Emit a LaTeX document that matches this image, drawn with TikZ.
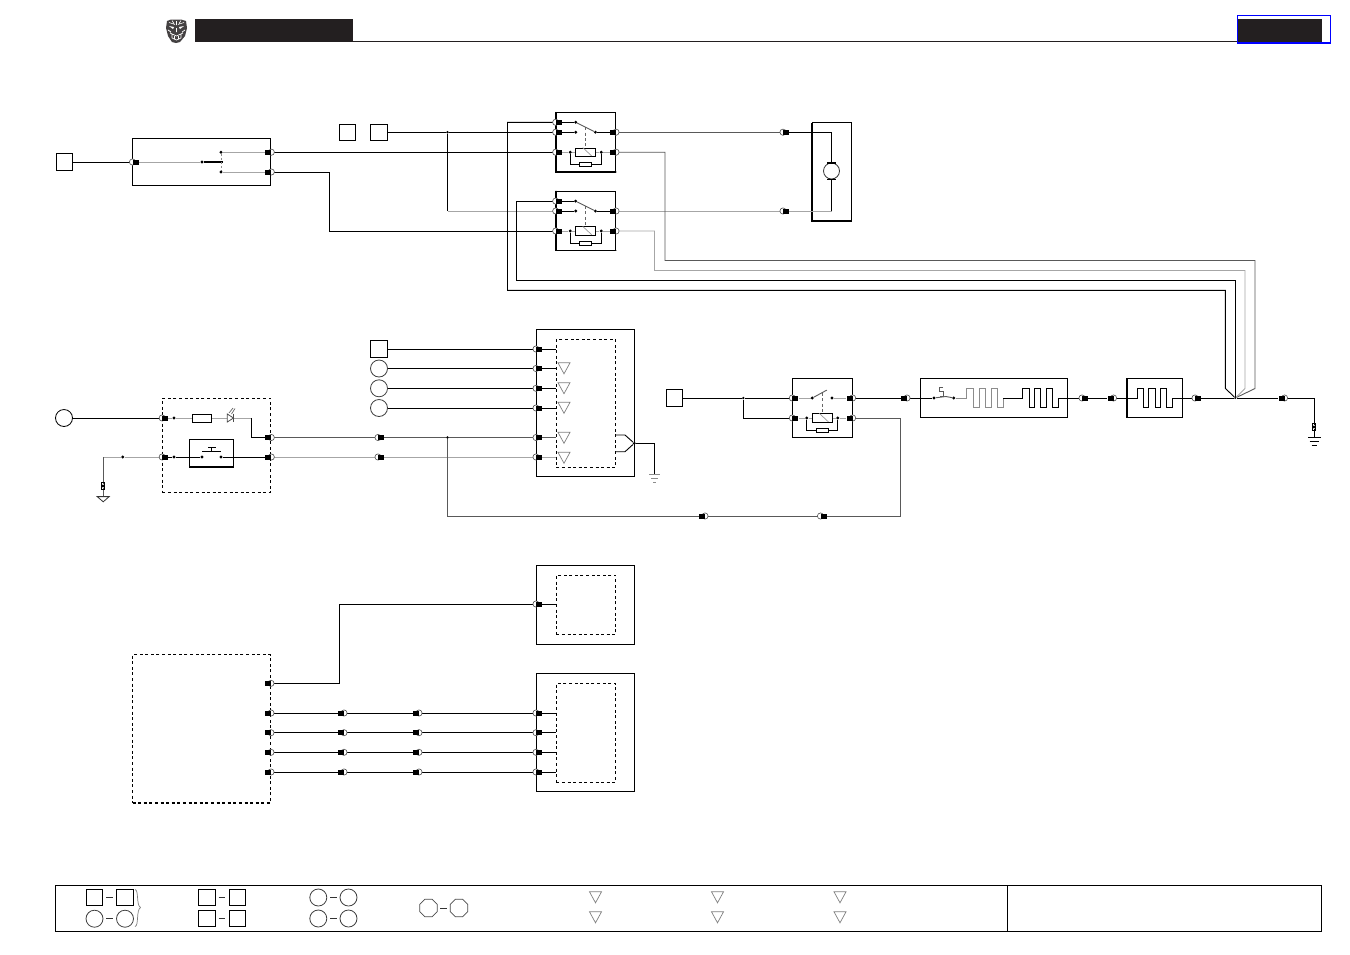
\documentclass[tikz,border=0pt]{standalone}
\usetikzlibrary{shapes.geometric}
\pgfdeclarelayer{bg}
\pgfsetlayers{bg,main}
\definecolor{ink}{HTML}{231F20}
\tikzset{
  wire/.style={draw=black,line width=0.9pt},
  mwire/.style={draw=black!65,line width=0.9pt},
  gwire/.style={draw=black!35,line width=0.9pt},
  hgwire/.style={draw=black!45,line width=0.9pt},
  thickline/.style={draw=black,line width=1.8pt},
  boxn/.style={draw=black,line width=0.9pt,inner sep=0pt,outer sep=0pt},
  dashbox/.style={draw=black,line width=0.9pt,inner sep=0pt,outer sep=0pt,dash pattern=on 3pt off 2.6pt},
  bigdash/.style={draw=black,line width=1.3pt,inner sep=0pt,outer sep=0pt,dash pattern=on 3pt off 2.6pt},
  term/.style={draw=black,line width=0.9pt,inner sep=0pt,minimum size=16.5pt},
  round/.style={circle,draw=black!75,line width=0.8pt,inner sep=0pt,minimum size=17pt},
  octa/.style={regular polygon,regular polygon sides=8,draw=black!70,line width=0.8pt,inner sep=0pt,minimum size=19pt},
  dotn/.style={circle,fill=black,inner sep=0pt,minimum size=3.2pt},
  pins/.style={rectangle,fill=black,inner sep=0pt,minimum width=6pt,minimum height=5pt},
  pinc/.style={circle,draw=black!70,fill=white,line width=0.6pt,inner sep=0pt,minimum size=6.2pt},
  resn/.style={draw=black,fill=white,line width=0.9pt,inner sep=0pt},
  triline/.style={draw=black!50,line width=0.7pt},
  gndline/.style={draw=black,line width=0.9pt},
}
\newcommand\pinL[3]{\node[pinc] at (#2-3,#3) {};\node[pins] (#1) at (#2,#3) {};}
\newcommand\pinR[3]{\node[pinc] at (#2+3,#3) {};\node[pins] (#1) at (#2,#3) {};}
\newcommand\bx[6][boxn]{%
  \pgfmathsetmacro\bw{#5-#3}\pgfmathsetmacro\bh{#6-#4}%
  \begin{pgfonlayer}{bg}
  \node[#1,minimum width=\bw pt,minimum height=\bh pt] (#2) at ({(#3+#5)/2},{(#4+#6)/2}) {};
  \end{pgfonlayer}}
\newcommand\tri[2]{\draw[triline] (#1-6,#2) -- (#1+6,#2) -- (#1,#2+11) -- cycle;}
% relay body: origin at top left of the box
\newcommand\relaybody[3]{%
  \pinL{#1L2}{3}{19.5}\pinR{#1R2}{57.3}{19.5}
  \pinL{#1L3}{3}{39.5}\pinR{#1R3}{57.3}{39.5}
  \node[dotn] (#1c1) at (20,19.5) {};
  \node[dotn] (#1c2) at (39.7,19.5) {};
  \node[dotn] (#1c3) at (14.5,39.5) {};
  \node[dotn] (#1c4) at (45.5,39.5) {};
  \node[resn,minimum width=20pt,minimum height=8.4pt] (#1coil) at (30,39.5) {};
  \node[resn,minimum width=12pt,minimum height=4.4pt] (#1res) at (30,52) {};
  \draw[draw=black!40,line width=0.7pt] (#1coil.north)++(-3,0) -- ++(9,8.4);
  \begin{pgfonlayer}{bg}
  \node[boxn,minimum width=60pt,minimum height=59pt] (#1box) at (30,29.5) {};
  \draw[#2,line cap=round] (#1box.north west) -- (#1box.south west) -- (#1box.south east);
  \draw[#3] (#1L2) -- (#1c1);
  \draw[#3] (#1c2) -- (#1R2);
  \draw[gwire] (#1L3) -- (#1c3) -- (#1coil);
  \draw[gwire] (#1coil) -- (#1c4) -- (#1R3);
  \draw[wire] (#1c3) |- (#1res);
  \draw[wire] (#1res) -| (#1c4);
  \draw[black!60,line width=0.7pt,dash pattern=on 3pt off 2.4pt] (29.7,14.5) -- (#1coil.north -| 29.7,0);
  \end{pgfonlayer}}
\begin{document}
\begin{tikzpicture}[x=1pt,y=-1pt]
\useasboundingbox (0,0) rectangle (1350,954);
\begin{pgfonlayer}{bg}
\fill[white] (0,0) rectangle (1350,954);
\end{pgfonlayer}

%% header
\fill[ink] (195,19) rectangle (353,42);
\draw[ink,line width=0.9pt] (353,41.6) -- (1238,41.6);
\fill[ink] (1238,18.5) rectangle (1322,42);
\draw[blue,line width=1.2pt] (1237.5,15.5) rectangle (1330.5,43);
% tiger emblem
\fill[ink!85] (167,21) -- (171,19.5) -- (181,19.5) -- (186,21) -- (187,28) -- (185,36) -- (180,42) -- (176,43) -- (172,42) -- (168,36) -- (166,28) -- cycle;
\fill[white] (169,26) -- (174,27) -- (173,29) -- cycle;
\fill[white] (184,26) -- (179,27) -- (180,29) -- cycle;
\draw[white,line width=0.6pt] (169,22.5) -- (175,24.5) (184,22.5) -- (178,24.5) (172,20.5) -- (174,23.5) (181,20.5) -- (179,23.5) (176.5,21) -- (176.5,25) (176.5,28) -- (176.5,32);
\draw[white,line width=0.7pt] (170,33) -- (176.5,36) -- (183,33) (172,38) -- (176.5,40) -- (181,38) (168,30) -- (171,32) (185,30) -- (182,32) (172,34) -- (172,38) (181,34) -- (181,38) (174.5,36) -- (174.5,39.5) (178.5,36) -- (178.5,39.5);

%% top switch
\node[term] (tA) at (64.5,162) {};
\bx{swbox}{132.3}{138.3}{270.7}{185.5}
\pinL{swL}{135.5}{162}
\pinR{swRa}{268.3}{152.2}
\pinR{swRb}{268.3}{172}
\node[dotn] (swP) at (202,162) {};
\node[dotn] (swCa) at (221,152.2) {};
\node[dotn] (swCb) at (221,172) {};
\coordinate (swArm) at (222.5,162);

%% top terminals
\node[term] (tB) at (347.5,132.2) {};
\node[term] (tC) at (379,132.2) {};
\node[dotn,minimum size=2.6pt] (jA) at (447.5,132.2) {};

%% relays
\begin{scope}[shift={(555.7,112.7)}]
  \relaybody{ra}{thickline}{wire}
  \pinL{raL1}{3}{9.6}
  \node[dotn] (rac0) at (20,9.6) {};
  \begin{pgfonlayer}{bg}
  \draw[wire] (raL1) -- (rac0);
  \draw[mwire] (rac0) -- (rac2);
  \end{pgfonlayer}
\end{scope}
\begin{scope}[shift={(555.7,191.5)}]
  \relaybody{rb}{thickline}{wire}
  \pinL{rbL1}{3}{9.6}
  \node[dotn] (rbc0) at (20,9.6) {};
  \begin{pgfonlayer}{bg}
  \draw[wire] (rbL1) -- (rbc0);
  \draw[mwire] (rbc0) -- (rbc2);
  \end{pgfonlayer}
\end{scope}
\begin{scope}[shift={(792.3,378.5)}]
  \relaybody{rc}{wire}{gwire}
  \coordinate (rcArm) at (34.5,11.6);
  \begin{pgfonlayer}{bg}
  \draw[mwire] (rcc1) -- (rcArm);
  \end{pgfonlayer}
\end{scope}

%% motor
\bx{mbox}{812}{122.5}{851}{221}
\begin{pgfonlayer}{bg}
\draw[thickline] (mbox.north west) -- (mbox.south west) -- (mbox.south east);
\end{pgfonlayer}
\node[circle,draw=black!80,fill=white,line width=0.8pt,inner sep=0pt,minimum size=16pt] (mot) at (831.5,171) {};
\fill[black] (827,161.7) rectangle (836,163.6);
\fill[black] (827,178.6) rectangle (836,180.4);
\pinL{mpa}{786}{132.2}
\pinL{mpb}{786}{211}
\coordinate (mta) at (831.5,132.2);
\coordinate (mtb) at (831.5,211);

%% middle left unit
\node[round,draw=black] (tD) at (64,418) {};
\bx[dashbox]{ubox}{162.3}{398.3}{270.7}{492.3}
\pinL{uLa}{165.2}{418}
\pinL{uLb}{165.2}{457}
\pinR{uRa}{268.3}{437.5}
\pinR{uRb}{268.3}{457}
\node[dotn] (ud1) at (174,418) {};
\node[dotn] (ud2) at (174,457) {};
\node[dotn] (ud3) at (122.7,457) {};
\node[resn,minimum width=19.4pt,minimum height=8pt] (ures) at (202,418) {};
\coordinate (uLedA) at (227.3,418);
\coordinate (uLedK) at (233.7,418);
\draw[draw=black!70,line width=0.8pt] (227.3,414) -- (233.5,418) -- (227.3,422) -- cycle;
\draw[draw=black!70,line width=0.8pt] (233.8,413.7) -- (233.8,422.3);
\draw[draw=black!60,line width=0.7pt] (229,413) -- (233,408) (231.5,414) -- (235,408.5);
\bx{ubtn}{189.3}{439.3}{233.3}{467.3}
\begin{pgfonlayer}{bg}
\draw[thickline] (ubtn.south west) -- (ubtn.south east);
\end{pgfonlayer}
\node[dotn] (ub1) at (202,457) {};
\node[dotn] (ub2) at (221,457) {};
\draw[wire] (202,451.3) -- (221,451.3) (211.5,451.3) -- (211.5,447.4) (208,447.4) -- (215.5,447.4);
% ground of the unit
\node[dotn] (ug) at (103,486) {};
\draw[draw=black!80,line width=0.8pt] (97.2,496.6) -- (109.2,496.6) -- (103.2,501.8) -- cycle;
\draw[black,line width=0.6pt] (101.6,482.5) rectangle (104.6,489);

%% middle terminals
\node[term] (tE) at (379,349) {};
\node[round] (tF) at (379,368.5) {};
\node[round] (tG) at (379,388.3) {};
\node[round] (tH) at (379,408) {};
\pinL{ha}{381}{437.5}
\pinL{hb}{381}{457}
\node[dotn,minimum size=2.6pt] (jB) at (447.5,437.5) {};

%% IC block
\bx{ica}{536.3}{329.4}{634.3}{476}
\bx[dashbox]{icb}{556.3}{339.3}{615.7}{467.3}
\pinL{ic1}{539}{349}
\pinL{ic2}{539}{368.5}
\pinL{ic3}{539}{388.3}
\pinL{ic4}{539}{408}
\pinL{ic5}{539}{437.5}
\pinL{ic6}{539}{457}
\tri{564}{362.8}
\tri{564}{382.7}
\tri{564}{402.3}
\tri{564}{432.3}
\tri{564}{452.3}
\node[dotn] (icg) at (634.3,443.3) {};
\coordinate (gndA) at (654.5,474);
\draw[black!45,line width=0.8pt] (649,474) -- (660,474) (651,478.2) -- (658,478.2) (653,482.6) -- (656,482.6);

%% lower bus
\pinL{bu}{823.5}{516}
\pinR{bv}{702}{516}

%% right chain
\node[term] (tJ) at (674.5,398) {};
\node[dotn,minimum size=2.6pt] (jC) at (743.3,398) {};
\pinR{ca}{904}{398}
\bx{hea}{920.3}{378.4}{1067.3}{417.6}
\node[dotn] (ha1) at (934,398) {};
\node[dotn] (ha2) at (953.7,398) {};
\pinL{cb}{1085}{398}
\pinR{cc}{1110.5}{398}
\bx{heb}{1126.9}{378.4}{1182.3}{417.6}
\begin{pgfonlayer}{bg}
\draw[line width=1.5pt] (heb.south west) rectangle (heb.north east);
\end{pgfonlayer}
\pinL{cd}{1198}{398}
\pinR{ce}{1281.5}{398}
\node[dotn,minimum size=2.2pt] (jD) at (1235.3,398) {};
\node[dotn] (gr) at (1314,427) {};
\draw[black,line width=0.6pt] (1312.6,423) rectangle (1315.4,430);
\draw[gndline] (1308,437.3) -- (1320.5,437.3) (1309.5,441) -- (1319,441) (1311.5,445) -- (1317,445);

%% lower boxes
\bx{ld1}{536.3}{565.5}{634.3}{644.5}
\bx[dashbox]{ld2}{556.3}{575}{615.7}{634.5}
\bx{ld3}{536.3}{673.5}{634.3}{791.5}
\bx[dashbox]{ld4}{556.3}{683.5}{615.7}{782}
\bx[bigdash]{bigd}{132.5}{654.5}{270.5}{803}
\pinR{bo0}{268}{683.3}
\pinR{bo1}{268}{713}
\pinR{bo2}{268}{732.7}
\pinR{bo3}{268}{752.3}
\pinR{bo4}{268}{772}
\pinR{mi1}{341}{713}
\pinR{mi2}{341}{732.7}
\pinR{mi3}{341}{752.3}
\pinR{mi4}{341}{772}
\pinR{mj1}{416}{713}
\pinR{mj2}{416}{732.7}
\pinR{mj3}{416}{752.3}
\pinR{mj4}{416}{772}
\pinL{ld0}{539}{604}
\pinL{le1}{539}{713}
\pinL{le2}{539}{732.7}
\pinL{le3}{539}{752.3}
\pinL{le4}{539}{772}

\begin{pgfonlayer}{bg}
% top switch wiring
\draw[wire] (tA) -- (swL);
\draw[gwire] (swL) -- (swP);
\draw[line width=1.5pt] (swP) -- (swArm);
\draw[black!45,line width=0.6pt,dash pattern=on 2pt off 2pt] (swCa) -- (swCb);
\draw[gwire] (swCa) -- (swRa);
\draw[gwire] (swCb) -- (swRb);
\draw[wire] (swRa) -- (raL3);
\draw[wire] (swRb) -| (329.7,231) -- (rbL3);
% supply to relays
\draw[wire] (tC) -- (jA) -- (raL2);
\draw[wire] (jA) |- (447.5,211);
\draw[gwire] (447.5,211) -- (rbL2);
% relay outputs to motor
\draw[mwire] (raR2) -- (mpa);
\draw[gwire] (rbR2) -- (mpb);
\draw[wire] (mpa) -- (mta) -- (mot);
\draw[wire] (mot) -- (mtb);
\draw[gwire] (mpb) -- (mtb);
% four return lines
\draw[mwire] (raR3) -| (665,260.5) -- (1255,260.5) -- (1255,388.5) -- (jD);
\draw[gwire] (rbR3) -| (654.5,270.5) -- (1245,270.5) -- (1245,388.5) -- (jD);
\draw[wire] (rbL1) -| (516.5,280.3) -- (1235.3,280.3) -- (jD);
\draw[wire] (raL1) -| (507.5,290.3) -- (1225.3,290.3) -- (1225.3,388.3) -- (jD);
% unit wiring
\draw[wire] (tD) -- (uLa);
\draw[gwire] (uLa) -- (ud1) -- (ures);
\draw[gwire] (ures) -- (uLedA);
\draw[gwire] (uLedK) -- (251,418);
\draw[wire] (251,418) |- (uRa);
\draw[gwire] (uLb) -- (ud3) -- (103,457);
\draw[mwire] (103,457) -- (ug);
\draw[mwire] (ug) -- (103,496.6);
\draw[wire] (uLb) -- (ud2) -- (ub1);
\draw[wire] (ub2) -- (uRb);
\draw[mwire] (uRa) -- (ha);
\draw[gwire] (uRb) -- (hb);
\draw[mwire] (ha) -- (jB) -- (ic5);
\draw[gwire] (hb) -- (ic6);
% into the block
\draw[wire] (tE) -- (ic1);
\draw[wire] (tF) -- (ic2);
\draw[wire] (tG) -- (ic3);
\draw[wire] (tH) -- (ic4);
\draw[wire] (ic1) -- (556.3,349);
\draw[wire] (ic2) -- (556.3,368.5);
\draw[wire] (ic3) -- (556.3,388.3);
\draw[wire] (ic4) -- (556.3,408);
\draw[mwire] (ic5) -- (556.3,437.5);
\draw[gwire] (ic6) -- (556.3,457);
\draw[wire] (615.7,435) -- (625,435) -- (icg);
\draw[wire] (615.7,451.7) -- (625,451.7) -- (icg);
\draw[wire] (icg) -| (gndA);
% bus
\draw[mwire] (jB) |- (bv);
\draw[mwire] (bv) -- (bu);
\draw[mwire] (rcR3) -| (900.5,516) -- (bu);
% right chain
\draw[wire] (tJ) -- (jC) -- (rcL2);
\draw[wire] (jC) |- (rcL3);
\draw[wire] (rcR2) -- (ca);
\draw[wire] (ca) -- (hea);
\draw[wire] (hea.west) -- (ha1);
\draw[mwire] (ha1) -- (946,396.5) -- (ha2);
\draw[mwire,line width=0.7pt] (943,387.5) -- (939.5,387.5) -- (939.5,391.5) -- (943,391.5) -- (943,396) -- (939.5,396);
\draw[hgwire] (ha2) -- (966.7,398) -- (966.7,388.3) -- (973.3,388.3) -- (973.3,407.7) -- (979.3,407.7) -- (979.3,388.3) -- (985,388.3) -- (985,407.7) -- (991,407.7) -- (991,388.3) -- (997.3,388.3) -- (997.3,407.7) -- (1003,407.7) -- (1003,398);
\draw[wire] (1003,398) -- (1022.3,398) -- (1022.3,388.3) -- (1029.3,388.3) -- (1029.3,407.7) -- (1034.3,407.7) -- (1034.3,388.3) -- (1040.7,388.3) -- (1040.7,407.7) -- (1046.7,407.7) -- (1046.7,388.3) -- (1052.7,388.3) -- (1052.7,407.7) -- (1058.7,407.7) -- (1058.7,398) -- (hea.east);
\draw[wire] (hea.east) -- (cb);
\draw[wire] (cb) -- (cc);
\draw[wire] (cc) -- (heb.west);
\draw[wire] (heb.west) -- (1137.3,398) -- (1137.3,388.3) -- (1143.3,388.3) -- (1143.3,407.7) -- (1148.7,407.7) -- (1148.7,388.3) -- (1155,388.3) -- (1155,407.7) -- (1160.7,407.7) -- (1160.7,388.3) -- (1166.7,388.3) -- (1166.7,407.7) -- (1172.7,407.7) -- (1172.7,398) -- (heb.east);
\draw[wire] (heb.east) -- (cd);
\draw[wire] (cd) -- (jD) -- (ce);
\draw[wire] (ce) -| (gr);
\draw[wire] (gr) -- (1314,437.3);
% lower harness
\draw[wire] (bo0) -| (339.3,604) -- (ld0);
\draw[wire] (ld0) -- (556.3,604);
\foreach \n in {1,2,3,4}{
  \draw[wire] (bo\n) -- (mi\n);
  \draw[wire] (mi\n) -- (mj\n);
  \draw[wire] (mj\n) -- (le\n);
  \draw[wire] (le\n) -- ++(17,0);
}
\end{pgfonlayer}

%% legend
\bx{lg}{55.5}{885.5}{1321.5}{931.5}
\coordinate (lgDivT) at (1007.5,885.5);
\coordinate (lgDivB) at (1007.5,931.5);
\draw[black,line width=0.9pt] (lgDivT) -- (lgDivB);
\node[term] (k1) at (94.5,897.5) {};
\node[term] (k2) at (125,897.5) {};
\node[round] (k3) at (94.5,918.7) {};
\node[round] (k4) at (125,918.7) {};
\node[term] (k5) at (206.7,897.5) {};
\node[term] (k6) at (237.3,897.5) {};
\node[term] (k7) at (206.7,918.5) {};
\node[term] (k8) at (237.3,918.5) {};
\node[round] (k9) at (318.3,897.5) {};
\node[round] (k10) at (348.5,897.5) {};
\node[round] (k11) at (318.3,918.5) {};
\node[round] (k12) at (348.5,918.5) {};
\node[octa] (k13) at (428.5,908) {};
\node[octa] (k14) at (459,908) {};
\draw[black!80,line width=0.8pt] (106,897.5) -- (112.5,897.5) (106,918.5) -- (112.5,918.5)
  (218.5,897.5) -- (225,897.5) (218.5,918.5) -- (225,918.5)
  (330,897.5) -- (336.5,897.5) (330,918.5) -- (336.5,918.5)
  (440,908) -- (447,908);
\draw[black!50,line width=0.7pt] (135,889.5) .. controls (139,890) and (136,905) .. (140.5,907.5) .. controls (136,910) and (139,926) .. (135,926.5);
\foreach \tx in {595.5,717.5,840}{
  \tri{\tx}{891.8}
  \tri{\tx}{911.8}
}
\end{tikzpicture}
\end{document}
